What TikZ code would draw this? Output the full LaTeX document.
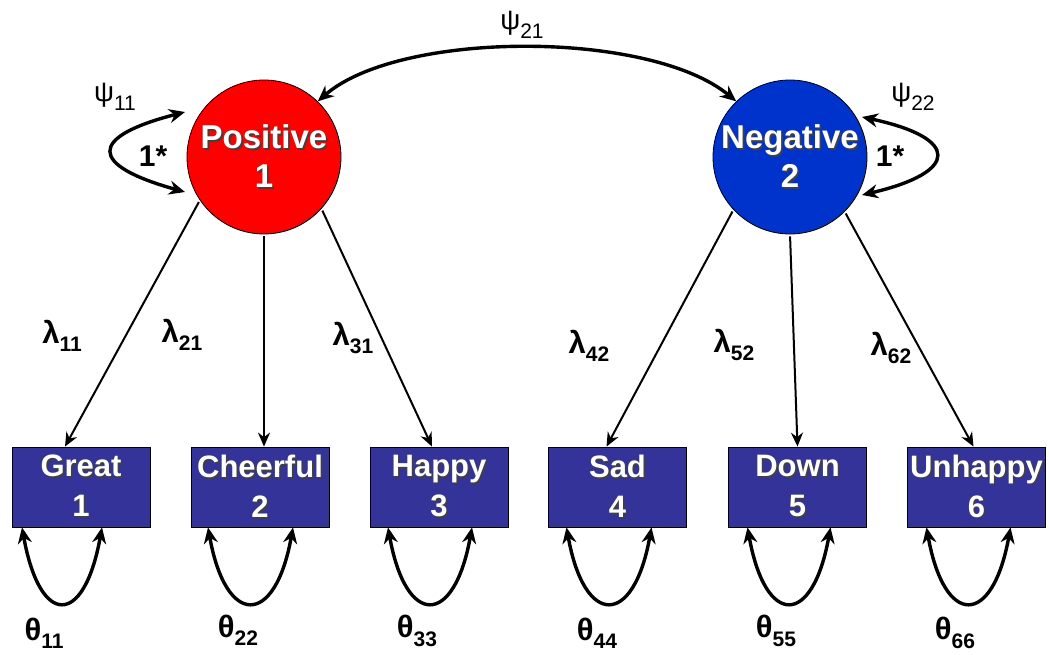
\documentclass[tikz,border=0pt]{standalone}
\usepackage{fontspec}
\setmainfont{Liberation Sans}
\usetikzlibrary{arrows.meta}
\definecolor{posred}{RGB}{255,0,0}
\definecolor{negblue}{RGB}{0,51,204}
\definecolor{itemblue}{RGB}{51,51,153}
\newcommand{\shtxt}[1]{\rlap{\kern1.8pt\raisebox{-1.8pt}{\textcolor{black!75}{#1}}}#1}
\newcommand{\glab}[2]{{\fontsize{31}{31}\selectfont\bfseries #1}\raisebox{-0.3em}{\fontsize{21}{21}\selectfont\bfseries #2}}
\newcommand{\glabn}[2]{#1\raisebox{-0.3em}{\fontsize{21}{21}\selectfont #2}}
\tikzset{
  latent/.style ={circle, draw=black, line width=0.8pt, minimum size=154pt, inner sep=0pt,
                  text=white, align=center, font=\fontsize{33}{39}\selectfont\bfseries},
  item/.style   ={rectangle, draw=black, line width=0.8pt, fill=itemblue, minimum width=138pt,
                  minimum height=80pt, inner sep=0pt, text=white, align=center,
                  font=\fontsize{31}{40}\selectfont\bfseries},
  loadS/.style  ={line width=2pt, shorten <=2pt, -{Stealth[length=14pt,width=12pt]}},
  varS/.style   ={line width=3.4pt, {Stealth[length=16pt,width=14pt]}-{Stealth[length=16pt,width=14pt]}},
  glab/.style   ={font=\fontsize{28}{28}\selectfont, inner sep=0pt},
  fixS/.style   ={font=\fontsize{30}{30}\selectfont\bfseries, inner sep=0pt},
}

\begin{document}
\begin{tikzpicture}[x=1pt, y=-1pt]
  \useasboundingbox (0,0) rectangle (1049,654);
  % factors
  \node[latent, fill=posred]  (pos) at (264,157) {\shtxt{Positive}\\\shtxt{1}};
  \node[latent, fill=negblue] (neg) at (790,157) {\shtxt{Negative}\\\shtxt{2}};
  % items
  \node[item] (great) at (81,487)    {\shtxt{Great}\\\shtxt{1}};
  \node[item] (cheer) at (260,487)   {\shtxt{Cheerful}\\\shtxt{2}};
  \node[item] (happy) at (439,487)   {\shtxt{Happy}\\\shtxt{3}};
  \node[item] (sad)   at (617.5,487) {\shtxt{Sad}\\\shtxt{4}};
  \node[item] (down)  at (797.5,487) {\shtxt{Down}\\\shtxt{5}};
  \node[item] (unhap) at (976.5,487) {\shtxt{Unhappy}\\\shtxt{6}};
  % loadings
  \draw[loadS] (pos.-146) -- ([xshift=-16pt]great.north);
  \draw[loadS] (pos.south) -- ([xshift=4pt]cheer.north);
  \draw[loadS] (pos.-42)   -- ([xshift=-7pt]happy.north);
  \draw[loadS] (neg.-137)  -- ([xshift=-11pt]sad.north);
  \draw[loadS] (neg.south) -- (down.north);
  \draw[loadS] (neg.-45)   -- ([xshift=-3pt]unhap.north);
  \node[glab] (l11) at (62,336)  {\glab{λ}{11}};
  \node[glab] (l21) at (182,335) {\glab{λ}{21}};
  \node[glab] (l31) at (353,338) {\glab{λ}{31}};
  \node[glab] (l42) at (589,346) {\glab{λ}{42}};
  \node[glab] (l52) at (734,345) {\glab{λ}{52}};
  \node[glab] (l62) at (891,348) {\glab{λ}{62}};
  % factor (co)variances
  \draw[varS] (pos.46) .. controls (400,30) and (650,30) .. (neg.134);
  \node[glab] (psi21) at (522,25) {\glabn{ψ}{21}};
  \draw[varS] ([shift={(-79,-45)}]pos.center) .. controls +(-97,25) and +(-97,-27) .. ([shift={(-79,35)}]pos.center);
  \draw[varS] ([shift={(72,-40)}]neg.center) .. controls +(98,21) and +(98,-23) .. ([shift={(72,38)}]neg.center);
  \node[glab] (psi11) at (115,97) {\glabn{ψ}{11}};
  \node[glab] (psi22) at (913,97) {\glabn{ψ}{22}};
  \node[fixS] (fix1) at (153,156) {1*};
  \node[fixS] (fix2) at (890,156) {1*};
  % residual variances
  \draw[varS] ([xshift=-59pt]great.south) .. controls +(18,100) and +(-18,100) .. ([xshift=21pt]great.south);
  \draw[varS] ([xshift=-52pt]cheer.south) .. controls +(18,100) and +(-18,100) .. ([xshift=33pt]cheer.south);
  \draw[varS] ([xshift=-51pt]happy.south) .. controls +(18,100) and +(-18,100) .. ([xshift=33pt]happy.south);
  \draw[varS] ([xshift=-51pt]sad.south)   .. controls +(18,100) and +(-18,100) .. ([xshift=34pt]sad.south);
  \draw[varS] ([xshift=-50pt]down.south)  .. controls +(18,100) and +(-18,100) .. ([xshift=33pt]down.south);
  \draw[varS] ([xshift=-50pt]unhap.south) .. controls +(18,100) and +(-18,100) .. ([xshift=34pt]unhap.south);
  \node[glab] (t11) at (44,633)  {\glab{θ}{11}};
  \node[glab] (t22) at (238,630) {\glab{θ}{22}};
  \node[glab] (t33) at (417,631) {\glab{θ}{33}};
  \node[glab] (t44) at (597,633) {\glab{θ}{44}};
  \node[glab] (t55) at (776,631) {\glab{θ}{55}};
  \node[glab] (t66) at (955,633) {\glab{θ}{66}};
\end{tikzpicture}
\end{document}
